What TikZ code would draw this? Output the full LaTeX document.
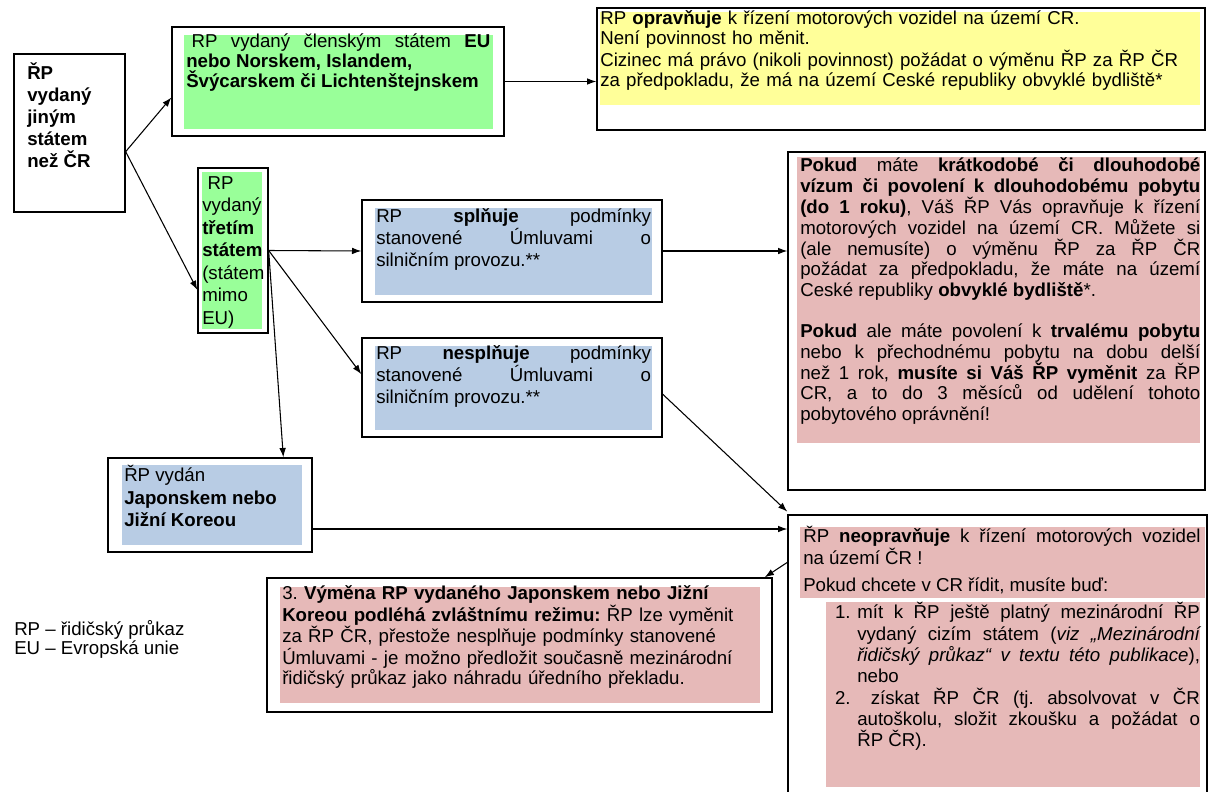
\documentclass[tikz,border=0pt]{standalone}
\usepackage{fontspec}
\setmainfont{Liberation Sans}
\usetikzlibrary{arrows.meta,fit}
\definecolor{boxgreen}{RGB}{153,255,153}
\definecolor{boxyellow}{RGB}{255,255,153}
\definecolor{boxblue}{RGB}{184,204,228}
\definecolor{boxpink}{RGB}{230,185,184}
\frenchspacing
\begin{document}
\begin{tikzpicture}[x=0.75pt, y=-0.75pt,
    frame/.style ={draw, line width=1pt, inner sep=0pt},
    txt/.style ={anchor=north west, inner sep=0pt, font=\fontsize{14}{15}\selectfont,
                 execute at begin node={\rule{0pt}{12.5pt}}},
    link/.style ={-{Latex[length=7pt,width=5pt]}, line width=0.8pt}]
   \useasboundingbox (0,0) rectangle (1210,792);
   \tolerance=10000 \hyphenpenalty=10000

   % frames
   \node[frame, fit={(14,54) (125,212)}] (A) {};
   \node[frame, fit={(172,27) (504,136)}] (B) {};
   \node[frame, fit={(597,8) (1205,130)}] (C) {};
   \node[frame, fit={(198,168) (268,333)}] (D) {};
   \node[frame, fit={(362,200) (662,302)}] (E) {};
   \node[frame, fit={(362,338) (662,437)}] (F) {};
   \node[frame, fit={(788,152) (1205,490)}] (G) {};
   \node[frame, fit={(788,515) (1207,805)}] (H) {};
   \node[frame, fit={(108,458) (312,552)}] (I) {};
   \node[frame, fit={(267,578) (772,712)}] (J) {};

   % fills
   \fill[boxgreen] (184,35) rectangle (493,129);
   \fill[boxyellow] (600,12) rectangle (1200,105);
   \fill[boxgreen] (202,172) rectangle (262,329);
   \fill[boxblue] (375,208) rectangle (652,295);
   \fill[boxblue] (375,346) rectangle (652,430);
   \fill[boxpink] (797,157) rectangle (1200,443);
   \fill[boxpink] (800,527) rectangle (1205,598);
   \fill[boxpink] (826,602) rectangle (1200,787);
   \fill[boxblue] (122,465) rectangle (302,545);
   \fill[boxpink] (280,587) rectangle (760,703);

   % texts
   \node[txt, align=left, font=\bfseries\fontsize{14}{16.5}\selectfont] (Atxt) at (27,63)
      {ŘP\\vydaný\\jiným\\státem\\než ČR};
   \node[txt, text width=228pt, align=justify] (Btxt) at (186,31)
      {\hspace*{4pt}RP vydaný členským státem \textbf{EU}\linebreak
       \textbf{nebo Norskem, Islandem,}\\
       \textbf{Švýcarskem či Lichtenštejnskem}};
   \node[txt, text width=450pt, align=left] (Ctxt) at (600,8)
      {RP \textbf{opravňuje} k řízení motorových vozidel na území CR.\\
       Není povinnost ho měnit.\\
       Cizinec má právo (nikoli povinnost) požádat o výměnu ŘP za ŘP ČR\\
       za předpokladu, že má na území Ceské republiky obvyklé bydliště*};
   \node[txt, align=left, font=\fontsize{14}{16.9}\selectfont] (Dtxt) at (202,176)
      {\hspace*{4pt}RP\\vydaný\\\textbf{třetím}\\\textbf{státem}\\(státem\\mimo\\EU)};
   \node[txt, text width=206pt, align=justify, font=\fontsize{14}{16.5}\selectfont] (Etxt) at (376,206)
      {RP \textbf{splňuje} podmínky\linebreak
       stanovené Úmluvami o\linebreak
       silničním provozu.**};
   \node[txt, text width=206pt, align=justify, font=\fontsize{14}{16.5}\selectfont] (Ftxt) at (376,343)
      {RP \textbf{nesplňuje} podmínky\linebreak
       stanovené Úmluvami o\linebreak
       silničním provozu.**};
   \node[txt, text width=300pt, align=justify, font=\fontsize{14}{15.6}\selectfont] (Gtxt) at (800,155)
      {\textbf{Pokud} máte \textbf{krátkodobé či dlouhodobé}\linebreak
       \textbf{vízum či povolení k dlouhodobému pobytu}\linebreak
       \textbf{(do 1 roku)}, Váš ŘP Vás opravňuje k řízení\linebreak
       motorových vozidel na území CR. Můžete si\linebreak
       (ale nemusíte) o výměnu ŘP za ŘP ČR\linebreak
       požádat za předpokladu, že máte na území\linebreak
       Ceské republiky \textbf{obvyklé bydliště}*.\\[15pt]
       \textbf{Pokud} ale máte povolení k \textbf{trvalému pobytu}\linebreak
       nebo k přechodnému pobytu na dobu delší\linebreak
       než 1 rok, \textbf{musíte si Váš ŘP vyměnit} za ŘP\linebreak
       CR, a to do 3 měsíců od udělení tohoto\linebreak
       pobytového oprávnění!};
   \node[txt, text width=298pt, align=justify] (Htxt) at (803,526)
      {ŘP \textbf{neopravňuje} k řízení motorových vozidel\linebreak
       na území ČR !\\[5pt]
       Pokud chcete v CR řídit, musíte buď:};
   \node[txt, text width=257pt, align=justify, font=\fontsize{14}{16}\selectfont] (Hlist) at (857,602)
      {\llap{1.\hspace{5pt}}mít k ŘP ještě platný mezinárodní ŘP\linebreak
       vydaný cizím státem (\textit{viz „Mezinárodní\linebreak
       řidičský průkaz“ v textu této publikace}),\linebreak
       nebo\\
       \llap{2.\hspace{5pt}} získat ŘP ČR (tj. absolvovat v ČR\linebreak
       autoškolu, složit zkoušku a požádat o\linebreak
       ŘP ČR).};
   \node[txt, align=left, font=\fontsize{14}{17}\selectfont] (Itxt) at (124,465)
      {ŘP vydán\\\textbf{Japonskem nebo}\\\textbf{Jižní Koreou}};
   \node[txt, text width=358pt, align=left] (Jtxt) at (282,583)
      {3. \textbf{Výměna RP vydaného Japonskem nebo Jižní}\\
       \textbf{Koreou podléhá zvláštnímu režimu:} ŘP lze vyměnit\\
       za ŘP ČR, přestože nesplňuje podmínky stanovené\\
       Úmluvami - je možno předložit současně mezinárodní\\
       řidičský průkaz jako náhradu úředního překladu.};
   \node[txt, align=left, font=\fontsize{14}{14.25}\selectfont] (legend) at (14,620)
      {RP – řidičský průkaz\\EU – Evropská unie};

   % connectors
   \draw[link] ([yshift=-14pt]A.east) to ([yshift=-12pt]B.west);
   \draw[link] ([yshift=-14pt]A.east) to ([yshift=-29.6pt]D.west);
   \draw[link] (B.east) to (B.east -| C.west);
   \draw[link] (D.east) to (E.west);
   \draw[link] (D.east) to ([yshift=10pt]F.west);
   \draw[link] (D.east) to ([xshift=55pt]I.north);
   \draw[link] (E.east) to (E.east -| G.west);
   \draw[link] ([yshift=-5pt]F.east) to ([yshift=2pt]H.north west);
   \draw[link] ([yshift=-18pt]I.east) to ([yshift=-18pt]I.east -| H.west);
   \draw[link] ([yshift=-36pt]H.north west) to ([xshift=-6pt]J.north east);
\end{tikzpicture}
\end{document}
